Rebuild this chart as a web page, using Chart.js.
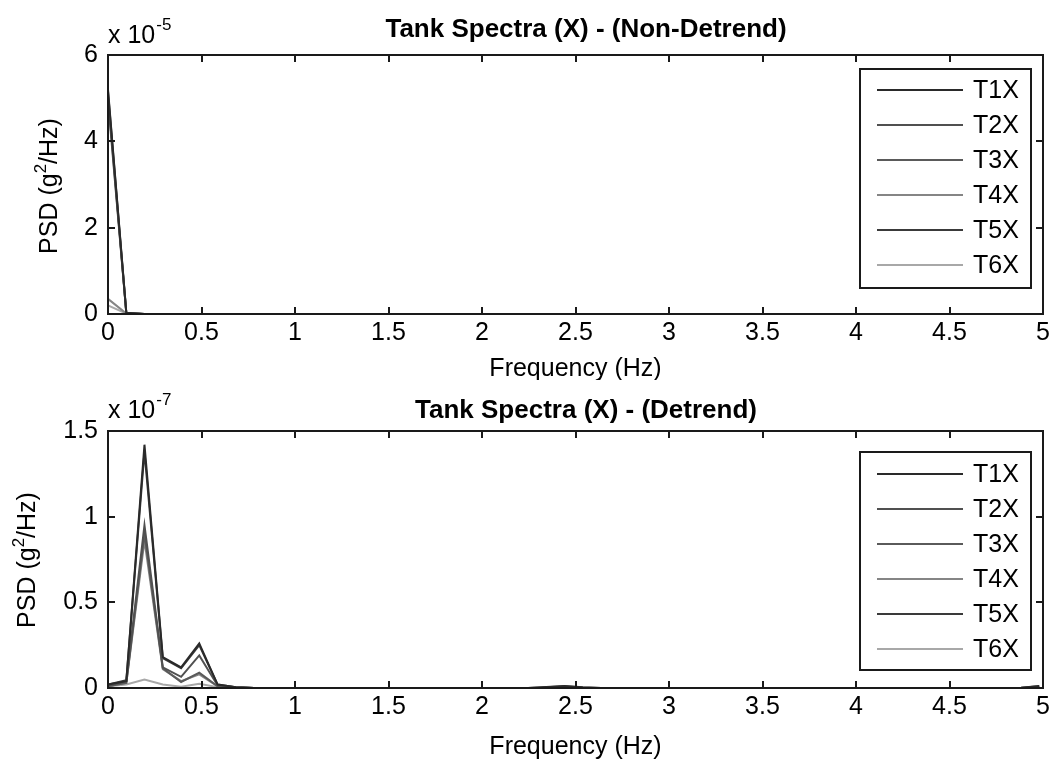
<!DOCTYPE html>
<html>
<head>
<meta charset="utf-8">
<script src="https://cdn.jsdelivr.net/npm/chart.js@4.4.0/dist/chart.umd.min.js"></script>
<style>
  html, body { margin: 0; padding: 0; background: #fff; }
  #wrap { position: relative; width: 1055px; height: 760px; }
  canvas { position: absolute; left: 0; }
</style>
</head>
<body>
<div id="wrap">
  <canvas id="top" width="1055" height="380" style="top:0"></canvas>
  <canvas id="bottom" width="1055" height="380" style="top:380px"></canvas>
</div>
<script>
// frequency bins (Hz)
var freqs = [0, 0.098, 0.195, 0.293, 0.391, 0.488, 0.586, 0.684, 0.781, 0.879,
  0.977, 1.074, 1.172, 1.270, 1.367, 1.465, 1.563, 1.660, 1.758, 1.855,
  1.953, 2.051, 2.148, 2.246, 2.344, 2.441, 2.539, 2.637, 2.734, 2.832,
  2.930, 3.027, 3.125, 3.223, 3.320, 3.418, 3.516, 3.613, 3.711, 3.809,
  3.906, 4.004, 4.102, 4.199, 4.297, 4.395, 4.492, 4.590, 4.688, 4.785,
  4.883, 4.980];

var names = ['T1X', 'T2X', 'T3X', 'T4X', 'T5X', 'T6X'];

// Non-detrend PSD (g^2/Hz)
var nd_T1X = [5.2e-5, 0.03e-5, 0,0,0,0,0,0,0,0, 0,0,0,0,0,0,0,0,0,0, 0,0,0,0,0,0,0,0,0,0, 0,0,0,0,0,0,0,0,0,0, 0,0,0,0,0,0,0,0,0,0];
var nd_T2X = [4.95e-5, 0.02e-5, 0,0,0,0,0,0,0,0, 0,0,0,0,0,0,0,0,0,0, 0,0,0,0,0,0,0,0,0,0, 0,0,0,0,0,0,0,0,0,0, 0,0,0,0,0,0,0,0,0,0];
var nd_T3X = [5.05e-5, 0.02e-5, 0,0,0,0,0,0,0,0, 0,0,0,0,0,0,0,0,0,0, 0,0,0,0,0,0,0,0,0,0, 0,0,0,0,0,0,0,0,0,0, 0,0,0,0,0,0,0,0,0,0];
var nd_T4X = [0.35e-5, 0.01e-5, 0,0,0,0,0,0,0,0, 0,0,0,0,0,0,0,0,0,0, 0,0,0,0,0,0,0,0,0,0, 0,0,0,0,0,0,0,0,0,0, 0,0,0,0,0,0,0,0,0,0];
var nd_T5X = [5.15e-5, 0.02e-5, 0,0,0,0,0,0,0,0, 0,0,0,0,0,0,0,0,0,0, 0,0,0,0,0,0,0,0,0,0, 0,0,0,0,0,0,0,0,0,0, 0,0,0,0,0,0,0,0,0,0];
var nd_T6X = [0.2e-5, 0.01e-5, 0,0,0,0,0,0,0,0, 0,0,0,0,0,0,0,0,0,0, 0,0,0,0,0,0,0,0,0,0, 0,0,0,0,0,0,0,0,0,0, 0,0,0,0,0,0,0,0,0,0];

// Detrend PSD (g^2/Hz)
var dt_T1X = [0.02e-7, 0.04e-7, 1.42e-7, 0.18e-7, 0.12e-7, 0.26e-7, 0.02e-7, 0.005e-7, 0,0,0,0,0,0,0,0, 0,0,0,0,0,0,0,0,
  0.006e-7, 0.012e-7, 0.004e-7, 0,0,0,0,0,0,0,0,0,0,0,0,0,0,0,0,0,0,0,0,0,0,0, 0.002e-7, 0.012e-7];
var dt_T2X = [0.015e-7, 0.04e-7, 0.95e-7, 0.12e-7, 0.065e-7, 0.19e-7, 0.015e-7, 0.004e-7, 0,0,0,0,0,0,0,0, 0,0,0,0,0,0,0,0,
  0, 0.004e-7, 0, 0,0,0,0,0,0,0,0,0,0,0,0,0,0,0,0,0,0,0,0,0,0,0, 0, 0.004e-7];
var dt_T3X = [0.01e-7, 0.03e-7, 0.90e-7, 0.115e-7, 0.035e-7, 0.09e-7, 0.01e-7, 0.003e-7, 0,0,0,0,0,0,0,0, 0,0,0,0,0,0,0,0,
  0, 0, 0, 0,0,0,0,0,0,0,0,0,0,0,0,0,0,0,0,0,0,0,0,0,0,0, 0, 0];
var dt_T4X = [0.01e-7, 0.03e-7, 0.86e-7, 0.11e-7, 0.04e-7, 0.08e-7, 0.01e-7, 0.003e-7, 0,0,0,0,0,0,0,0, 0,0,0,0,0,0,0,0,
  0, 0, 0, 0,0,0,0,0,0,0,0,0,0,0,0,0,0,0,0,0,0,0,0,0,0,0, 0, 0];
var dt_T5X = [0.02e-7, 0.045e-7, 1.38e-7, 0.175e-7, 0.115e-7, 0.25e-7, 0.02e-7, 0.005e-7, 0,0,0,0,0,0,0,0, 0,0,0,0,0,0,0,0,
  0.004e-7, 0.01e-7, 0.003e-7, 0,0,0,0,0,0,0,0,0,0,0,0,0,0,0,0,0,0,0,0,0,0,0, 0.002e-7, 0.01e-7];
var dt_T6X = [0.01e-7, 0.02e-7, 0.05e-7, 0.02e-7, 0.008e-7, 0.025e-7, 0.005e-7, 0.002e-7, 0,0,0,0,0,0,0,0, 0,0,0,0,0,0,0,0,
  0, 0, 0, 0,0,0,0,0,0,0,0,0,0,0,0,0,0,0,0,0,0,0,0,0,0,0, 0, 0];

// ticks
var xTicks = [0, 0.5, 1, 1.5, 2, 2.5, 3, 3.5, 4, 4.5, 5];
var xTickLabels = ['0', '0.5', '1', '1.5', '2', '2.5', '3', '3.5', '4', '4.5', '5'];
var yTicksTop = [0, 2e-5, 4e-5, 6e-5];
var yTickLabelsTop = ['0', '2', '4', '6'];
var yTicksBottom = [0, 0.5e-7, 1e-7, 1.5e-7];
var yTickLabelsBottom = ['0', '0.5', '1', '1.5'];

var colors = ['#2a2a2a', '#505050', '#5a5a5a', '#858585', '#3a3a3a', '#a8a8a8'];
var FONT = "'Liberation Sans', Arial, sans-serif";

// matlab-style frame, inward ticks, labels and boxed legend
var matlabPlugin = {
    id: 'matlab',
    afterDraw: function (chart, args, opts) {
        var ctx = chart.ctx;
        var a = chart.chartArea;
        var xs = chart.scales.x, ys = chart.scales.y;
        ctx.save();
        ctx.strokeStyle = '#1a1a1a';
        ctx.lineWidth = 2;
        ctx.strokeRect(a.left, a.top, a.right - a.left, a.bottom - a.top);

        // inward ticks on all four sides
        ctx.beginPath();
        xs.ticks.forEach(function (t) {
            var px = Math.round(xs.getPixelForValue(t.value));
            ctx.moveTo(px, a.bottom); ctx.lineTo(px, a.bottom - 7);
            ctx.moveTo(px, a.top); ctx.lineTo(px, a.top + 7);
        });
        ys.ticks.forEach(function (t) {
            var py = Math.round(ys.getPixelForValue(t.value));
            ctx.moveTo(a.left, py); ctx.lineTo(a.left + 7, py);
            ctx.moveTo(a.right, py); ctx.lineTo(a.right - 7, py);
        });
        ctx.stroke();

        ctx.fillStyle = '#000';
        // title
        ctx.font = 'bold 26px ' + FONT;
        ctx.textAlign = 'center';
        ctx.textBaseline = 'alphabetic';
        ctx.fillText(opts.title, opts.titleX, opts.titleY);

        // exponent
        ctx.textAlign = 'left';
        ctx.font = '25px ' + FONT;
        ctx.fillText('x 10', a.left, opts.expY);
        var w = ctx.measureText('x 10').width;
        ctx.font = '17px ' + FONT;
        ctx.fillText(opts.exp, a.left + w + 1, opts.expY - 13);

        // x label
        ctx.font = '25px ' + FONT;
        ctx.textAlign = 'center';
        ctx.fillText('Frequency (Hz)', (a.left + a.right) / 2, opts.xLabelY);

        // y label with superscript
        ctx.save();
        ctx.translate(opts.yLabelX, opts.yLabelY);
        ctx.rotate(-Math.PI / 2);
        ctx.textAlign = 'left';
        ctx.textBaseline = 'middle';
        ctx.font = '25px ' + FONT;
        var p1 = 'PSD (g', p3 = '/Hz)';
        var w1 = ctx.measureText(p1).width, w3 = ctx.measureText(p3).width;
        ctx.font = '17px ' + FONT;
        var w2 = ctx.measureText('2').width;
        var x0 = -(w1 + w2 + w3) / 2;
        ctx.font = '25px ' + FONT;
        ctx.fillText(p1, x0, 0);
        ctx.font = '17px ' + FONT;
        ctx.fillText('2', x0 + w1, -9);
        ctx.font = '25px ' + FONT;
        ctx.fillText(p3, x0 + w1 + w2, 0);
        ctx.restore();

        // legend
        var lb = opts.legend;
        ctx.fillStyle = '#fff';
        ctx.fillRect(lb.left, lb.top, lb.right - lb.left, lb.bottom - lb.top);
        ctx.strokeStyle = '#1a1a1a';
        ctx.lineWidth = 2;
        ctx.strokeRect(lb.left, lb.top, lb.right - lb.left, lb.bottom - lb.top);
        ctx.font = '25px ' + FONT;
        ctx.textAlign = 'left';
        ctx.textBaseline = 'middle';
        chart.data.datasets.forEach(function (ds, i) {
            var y = lb.top + lb.first + i * lb.step;
            ctx.strokeStyle = ds.borderColor;
            ctx.lineWidth = 2;
            ctx.beginPath();
            ctx.moveTo(lb.left + 17, y); ctx.lineTo(lb.left + 103, y);
            ctx.stroke();
            ctx.fillStyle = '#000';
            ctx.fillText(ds.label, lb.left + 113, y + 1);
        });
        ctx.restore();
    }
};

function makeSets(series) {
    return names.map(function (n, i) {
        return {
            label: n,
            data: freqs.map(function (f, j) { return { x: f, y: series[i][j] }; }),
            borderColor: colors[i],
            borderWidth: 2,
            pointRadius: 0,
            fill: false,
            tension: 0
        };
    });
}

function makeChart(id, series, yTicks, yLabels, padTop, xH, m) {
    var ctx = document.getElementById(id).getContext('2d');
    return new Chart(ctx, {
        type: 'line',
        data: { datasets: makeSets(series) },
        plugins: [matlabPlugin],
        options: {
            responsive: false,
            animation: false,
            layout: { padding: { top: padTop, right: 12, bottom: 0, left: 0 } },
            plugins: { legend: { display: false }, tooltip: { enabled: false }, matlab: m },
            scales: {
                x: {
                    type: 'linear', min: 0, max: 5,
                    afterBuildTicks: function (s) { s.ticks = xTicks.map(function (v) { return { value: v }; }); },
                    afterFit: function (s) { s.height = xH; },
                    grid: { display: false, drawTicks: false },
                    border: { display: false },
                    ticks: {
                        color: '#000', padding: 4, autoSkip: false, maxRotation: 0,
                        font: { family: FONT, size: 25 },
                        callback: function (v, i) { return xTickLabels[i]; }
                    }
                },
                y: {
                    type: 'linear', min: yTicks[0], max: yTicks[yTicks.length - 1],
                    afterBuildTicks: function (s) { s.ticks = yTicks.map(function (v) { return { value: v }; }); },
                    afterFit: function (s) { s.width = 108; },
                    grid: { display: false, drawTicks: false },
                    border: { display: false },
                    ticks: {
                        color: '#000', padding: 10,
                        font: { family: FONT, size: 25 },
                        callback: function (v, i) { return yLabels[i]; }
                    }
                }
            }
        }
    });
}

makeChart('top', [nd_T1X, nd_T2X, nd_T3X, nd_T4X, nd_T5X, nd_T6X], yTicksTop, yTickLabelsTop, 55, 66, {
    title: 'Tank Spectra (X) - (Non-Detrend)', titleX: 586, titleY: 37,
    exp: '-5', expY: 43, xLabelY: 376, yLabelX: 50, yLabelY: 186,
    legend: { left: 860, top: 69, right: 1031, bottom: 288, first: 21, step: 35 }
});
makeChart('bottom', [dt_T1X, dt_T2X, dt_T3X, dt_T4X, dt_T5X, dt_T6X], yTicksBottom, yTickLabelsBottom, 51, 72, {
    title: 'Tank Spectra (X) - (Detrend)', titleX: 586, titleY: 38,
    exp: '-7', expY: 38, xLabelY: 374, yLabelX: 28, yLabelY: 180,
    legend: { left: 860, top: 72, right: 1031, bottom: 290, first: 22, step: 35 }
});
</script>
</body>
</html>
